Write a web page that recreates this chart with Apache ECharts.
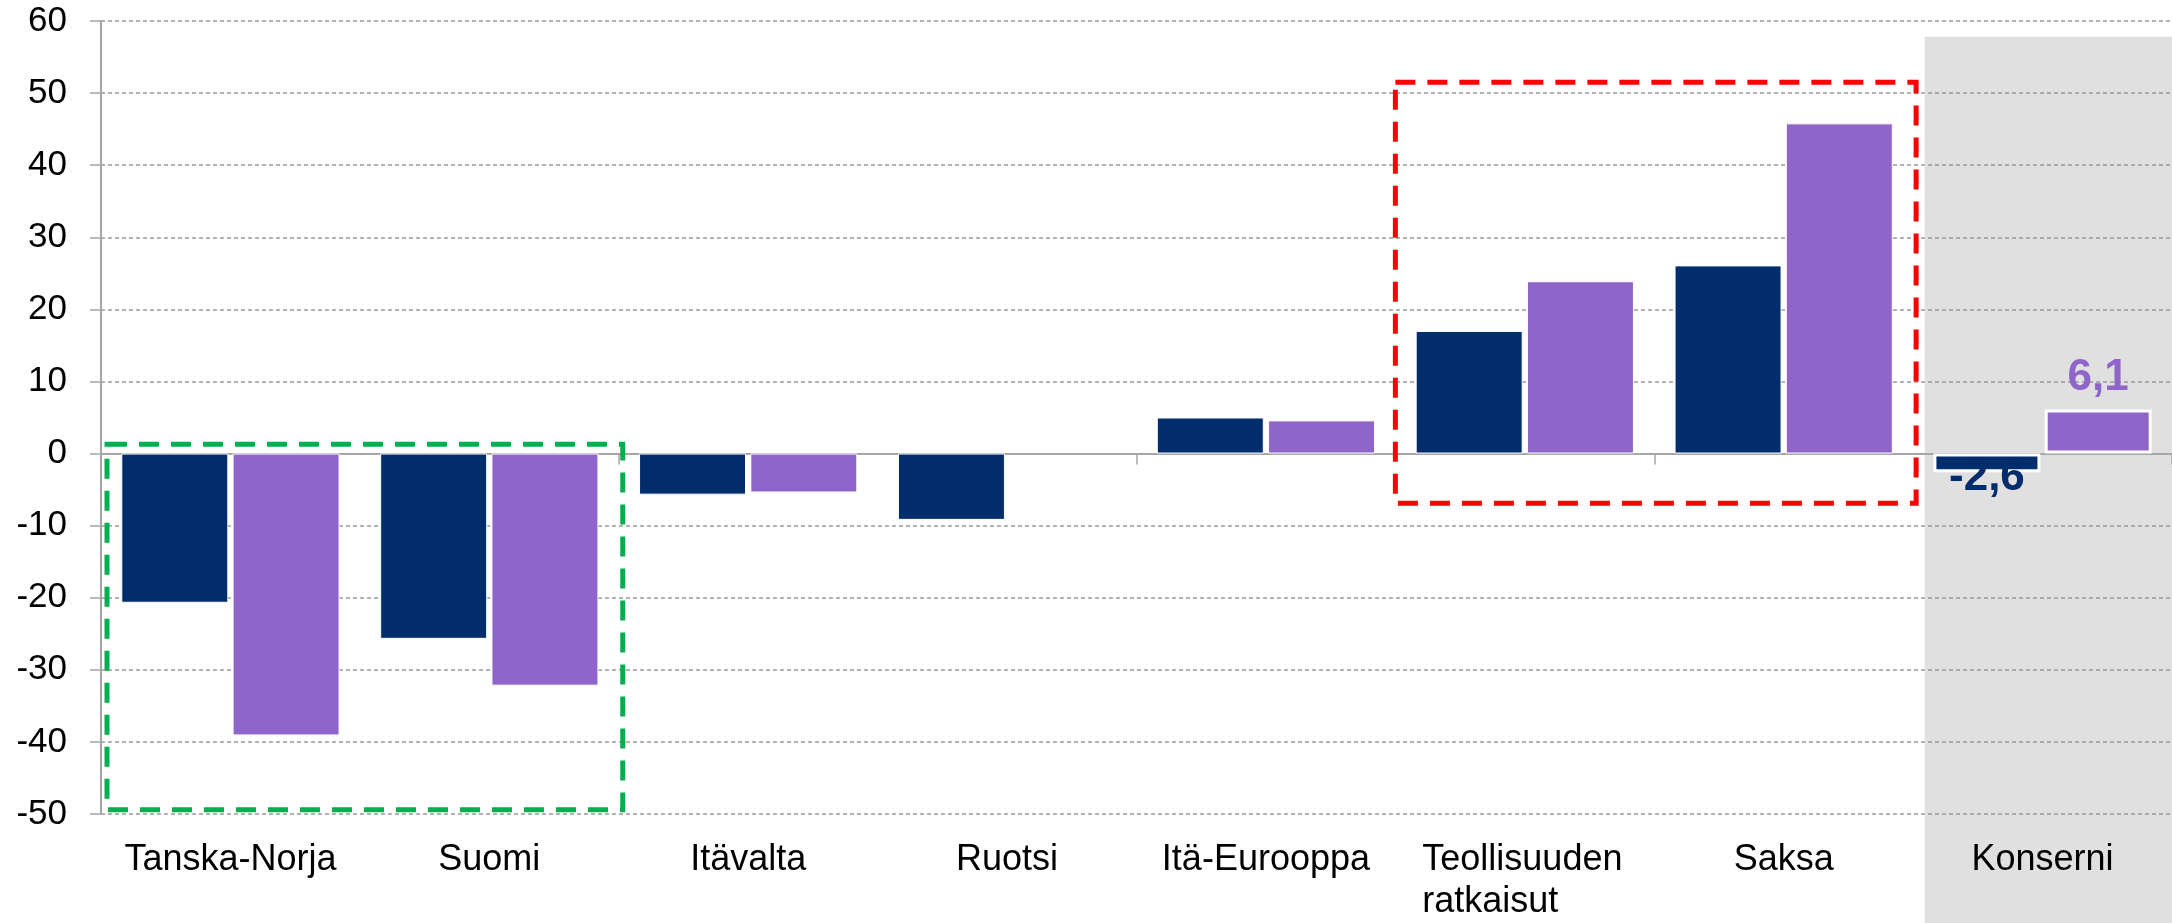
<!DOCTYPE html>
<html>
<head>
<meta charset="utf-8">
<script src="https://cdn.jsdelivr.net/npm/echarts@6/dist/echarts.min.js"></script>
<style>
  html, body { margin: 0; padding: 0; background: #fff; }
  #chart { width: 2172px; height: 923px; }
</style>
</head>
<body>
<div id="chart"></div>
<script>
// alueet
var categories = ['Tanska-Norja', 'Suomi', 'Itävalta', 'Ruotsi', 'Itä-Eurooppa', 'Teollisuuden\nratkaisut', 'Saksa', 'Konserni'];
// sarjat (tummansininen / violetti)
var navyValues = [-20.7, -25.7, -5.7, -9.2, 5.0, 17.0, 26.1, -2.6];
var purpleValues = [-39.1, -32.2, -5.4, null, 4.6, 23.9, 45.8, 6.1];
var yTicks = { min: -50, max: 60, interval: 10 };

var NAVY = '#022D6D';
var PURPLE = '#9065C9';
var FONT = "'Liberation Sans', Arial, sans-serif";

function fmt(v) {
  return String(v).replace('.', ',');
}

// vain viimeiseen (Konserni) arvo näkyviin
function buildData(values, color, pos, offY) {
  return values.map(function (v, i) {
    if (i !== values.length - 1) return v;
    return {
      value: v,
      itemStyle: { borderColor: '#fff', borderWidth: 3 },
      label: {
        show: true,
        position: pos,
        distance: 10,
        offset: [0, offY],
        color: color,
        fontFamily: FONT,
        fontWeight: 'bold',
        fontSize: 44,
        formatter: function (p) { return fmt(p.value); }
      }
    };
  });
}

var chart = echarts.init(document.getElementById('chart'));

var option = {
  animation: false,
  backgroundColor: '#fff',
  grid: { left: 101, right: 0, top: 21, bottom: 107, containLabel: false },
  xAxis: [
    {
      type: 'category',
      data: categories,
      position: 'bottom',
      axisLine: { onZero: true, lineStyle: { color: '#A6A6A6', width: 2 } },
      axisTick: { show: true, interval: 1, length: 11, lineStyle: { color: '#A6A6A6', width: 1.5 } },
      axisLabel: { show: false },
      splitLine: { show: false }
    },
    {
      type: 'category',
      data: categories,
      position: 'bottom',
      axisLine: { show: false, onZero: false },
      axisTick: { show: false },
      splitLine: { show: false },
      axisLabel: {
        show: true,
        interval: 0,
        margin: 25,
        color: '#000',
        fontFamily: FONT,
        fontSize: 36,
        lineHeight: 42,
        formatter: function (v) {
          if (v.indexOf('\n') >= 0) {
            return v.split('\n').map(function (s) { return '{l|' + s + '}'; }).join('\n');
          }
          return v;
        },
        rich: {
          l: { width: 205, align: 'left', fontFamily: FONT, fontSize: 36, lineHeight: 42, color: '#000' }
        }
      }
    }
  ],
  yAxis: {
    type: 'value',
    min: yTicks.min,
    max: yTicks.max,
    interval: yTicks.interval,
    axisLine: { show: true, lineStyle: { color: '#A6A6A6', width: 2 } },
    axisTick: { show: true, length: 11, lineStyle: { color: '#A6A6A6', width: 1.5 } },
    axisLabel: { color: '#000', fontFamily: FONT, fontSize: 35, margin: 34 },
    splitLine: { show: true, lineStyle: { color: '#999', width: 1.5, type: [4, 3] } }
  },
  series: [
    {
      name: 'navy',
      type: 'bar',
      xAxisIndex: 0,
      data: buildData(navyValues, NAVY, 'bottom', -26),
      barWidth: 107,
      barGap: '4%',
      itemStyle: { color: NAVY, borderColor: '#fff', borderWidth: 1 }
    },
    {
      name: 'purple',
      type: 'bar',
      xAxisIndex: 0,
      data: buildData(purpleValues, PURPLE, 'top', 0),
      barWidth: 107,
      barGap: '4%',
      itemStyle: { color: PURPLE, borderColor: '#fff', borderWidth: 1 }
    }
  ]
};

chart.setOption(option);

// koristeet: harmaa tausta ja katkoviivalaatikot, sijainnit akseleista
function px(cat) { return chart.convertToPixel({ xAxisIndex: 0 }, cat); }
function py(v) { return chart.convertToPixel({ yAxisIndex: 0 }, v); }

var c0 = px(categories[0]);
var halfW = (px(categories[1]) - c0) / 2;
var lastC = px(categories[categories.length - 1]);

function dashBox(catA, catB, yTop, yBottom, color, padL, padR) {
  var x1 = px(catA) - halfW + padL;
  var x2 = px(catB) + halfW + padR;
  var y1 = py(yTop);
  var y2 = py(yBottom);
  return {
    type: 'rect',
    z: 100,
    silent: true,
    shape: { x: x1, y: y1, width: x2 - x1, height: y2 - y1 },
    style: { fill: 'none', stroke: color, lineWidth: 5, lineDash: [20, 12] }
  };
}

chart.setOption({
  graphic: [
    {
      type: 'rect',
      z: -10,
      silent: true,
      shape: { x: lastC - halfW * 0.91, y: py(57.8), width: 2172, height: 923 },
      style: { fill: '#E0E0E0' }
    },
    dashBox(categories[0], categories[1], 1.3, -49.4, '#00B050', 6, 4),
    dashBox(categories[5], categories[6], 51.5, -6.9, '#FF0000', 0, 3)
  ]
});
</script>
</body>
</html>
